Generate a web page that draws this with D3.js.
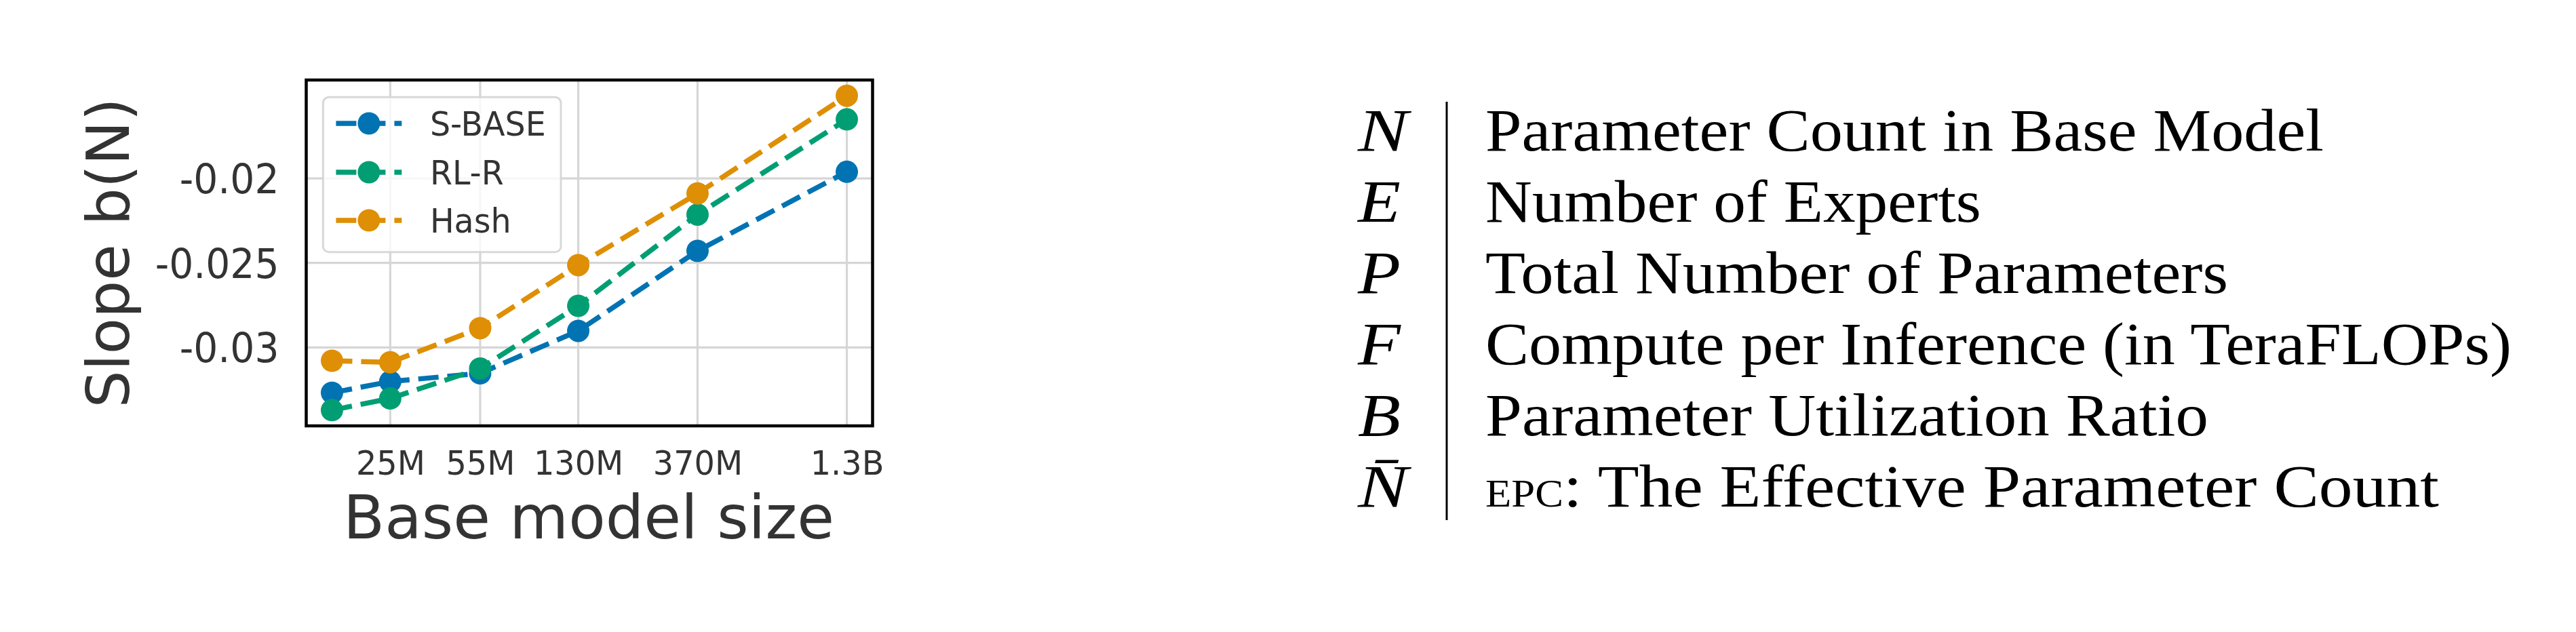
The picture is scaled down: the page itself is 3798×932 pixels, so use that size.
<!DOCTYPE html>
<html><head><meta charset="utf-8">
<script src="https://cdn.jsdelivr.net/npm/d3@7"></script>
<style>html,body{margin:0;padding:0;background:#fff;} svg{display:block}</style>
</head><body>
<script>
// ---------------- data ----------------
const modelSizes   = [15e6, 25e6, 55e6, 130e6, 370e6, 1.37e9];
const xTickValues  = [25e6, 55e6, 130e6, 370e6, 1.37e9];
const xTickLabels  = ["25M", "55M", "130M", "370M", "1.3B"];
const yTickValues  = [-0.03, -0.025, -0.02];
const yTickLabels  = ["-0.03", "-0.025", "-0.02"];
const seriesNames  = ["S-BASE", "RL-R", "Hash"];
const sbaseSlope   = [-0.03268, -0.03202, -0.03153, -0.02902, -0.02429, -0.01961];
const rlrSlope     = [-0.03371, -0.03302, -0.03125, -0.02754, -0.02214, -0.01651];
const hashSlope    = [-0.03079, -0.03088, -0.02886, -0.02513, -0.02089, -0.01511];
const xLabel = "Base model size";
const yLabel = "Slope b(N)";
const tableSymbols = ["N", "E", "P", "F", "B", "N\u0304"];
const tableDescriptions = [
  "Parameter Count in Base Model",
  "Number of Experts",
  "Total Number of Parameters",
  "Compute per Inference (in TeraFLOPs)",
  "Parameter Utilization Ratio",
  ["EPC", ": The Effective Parameter Count"]
];

// ---------------- styles / layout ----------------
const W = 3798, H = 932;
const colors = ["#0173b2", "#029e73", "#de8f05"];
const textColor = "#333333";
const plot = {left: 451.5, right: 1286.5, top: 118, bottom: 628};
const tableLayout = {symX: 2002, ruleX: 2133, ruleTop: 150, ruleBottom: 767, textX: 2190,
  baseline0: 222, rowStep: 105, fontSize: 89,
  symWidths: [74, 63, 63, 63, 63, 74],
  rowWidths: [1236, 731, 1095, 1513, 1066, 1406]};

const svg = d3.select("body").append("svg").attr("width", W).attr("height", H)
  .style("font-family", "'DejaVu Sans', sans-serif");

function squeeze(sel, f) {
  sel.each(function() {
    const w = this.getComputedTextLength();
    d3.select(this).attr("textLength", w * f).attr("lengthAdjust", "spacingAndGlyphs");
  });
}

// scales (matplotlib-like 5% margins)
const lx = d3.extent(modelSizes).map(Math.log10);
const px = (lx[1] - lx[0]) * 0.05;
const x = d3.scaleLog().domain([Math.pow(10, lx[0] - px), Math.pow(10, lx[1] + px)])
  .range([plot.left, plot.right]);
const allY = sbaseSlope.concat(rlrSlope, hashSlope);
const ey = d3.extent(allY);
const py = (ey[1] - ey[0]) * 0.05;
const y = d3.scaleLinear().domain([ey[0] - py, ey[1] + py]).range([plot.bottom, plot.top]);

// grid
const grid = svg.append("g");
grid.selectAll("line.gx").data(xTickValues).join("line")
  .attr("x1", d => x(d)).attr("x2", d => x(d))
  .attr("y1", plot.top).attr("y2", plot.bottom)
  .attr("stroke", "#d6d6d6").attr("stroke-width", 3.2);
grid.selectAll("line.gy").data(yTickValues).join("line")
  .attr("y1", d => y(d)).attr("y2", d => y(d))
  .attr("x1", plot.left).attr("x2", plot.right)
  .attr("stroke", "#d6d6d6").attr("stroke-width", 3.2);

// axes (tick labels via d3 axes, no tick marks/domain)
const xAxis = d3.axisBottom(x).tickValues(xTickValues)
  .tickFormat((d, i) => xTickLabels[i]).tickSize(0).tickPadding(0);
const gx = svg.append("g").attr("transform", `translate(0,${plot.bottom})`).call(xAxis);
gx.select(".domain").remove();
gx.selectAll("text").attr("fill", textColor).attr("font-size", 50)
  .attr("font-family", "'DejaVu Sans', sans-serif")
  .attr("y", 72).attr("dy", 0);
squeeze(gx.selectAll("text"), 0.955);

const yAxis = d3.axisLeft(y).tickValues(yTickValues)
  .tickFormat((d, i) => yTickLabels[i]).tickSize(0).tickPadding(0);
const gy = svg.append("g").attr("transform", `translate(${plot.left},0)`).call(yAxis);
gy.select(".domain").remove();
gy.selectAll("text").attr("fill", textColor).attr("font-size", 60)
  .attr("font-family", "'DejaVu Sans', sans-serif")
  .attr("x", -40).attr("dy", "0.36em");
squeeze(gy.selectAll("text"), 0.945);

// axis labels
svg.append("text").attr("x", (plot.left + plot.right) / 2 - 1).attr("y", 794)
  .attr("text-anchor", "middle").attr("font-size", 89).attr("fill", textColor)
  .attr("textLength", 724).attr("lengthAdjust", "spacingAndGlyphs").text(xLabel);
svg.append("text").attr("transform", `translate(190,${(plot.top + plot.bottom) / 2}) rotate(-90)`)
  .attr("text-anchor", "middle").attr("font-size", 87).attr("fill", textColor).text(yLabel);

// series
const series = [sbaseSlope, rlrSlope, hashSlope].map((vals, i) => ({
  name: seriesNames[i], color: colors[i],
  pts: vals.map((v, j) => ({x: modelSizes[j], y: v}))
}));
const line = d3.line().x(d => x(d.x)).y(d => y(d.y));
const gs = svg.append("g");
series.forEach(s => {
  gs.append("path").datum(s.pts).attr("d", line).attr("fill", "none")
    .attr("stroke", s.color).attr("stroke-width", 7.5).attr("stroke-dasharray", "30,13");
  gs.selectAll(null).data(s.pts).join("circle")
    .attr("cx", d => x(d.x)).attr("cy", d => y(d.y)).attr("r", 16.5).attr("fill", s.color);
});

// frame
svg.append("rect").attr("x", plot.left).attr("y", plot.top)
  .attr("width", plot.right - plot.left).attr("height", plot.bottom - plot.top)
  .attr("fill", "none").attr("stroke", "#000").attr("stroke-width", 4.5);

// legend
const lg = svg.append("g");
lg.append("rect").attr("x", 476.3).attr("y", 143.3).attr("width", 350.7).attr("height", 228.5)
  .attr("rx", 8.6).attr("fill", "#fff").attr("fill-opacity", 0.8)
  .attr("stroke", "#d4d4d4").attr("stroke-opacity", 0.9).attr("stroke-width", 3);
const rowY = [182, 254, 325];
series.forEach((s, i) => {
  const g = lg.append("g").attr("transform", `translate(0,${rowY[i]})`);
  g.append("line").attr("x1", 495.4).attr("x2", 592.3).attr("y1", 0).attr("y2", 0)
    .attr("stroke", s.color).attr("stroke-width", 7.5).attr("stroke-dasharray", "30,13");
  g.append("circle").attr("cx", 543.9).attr("cy", 0).attr("r", 16.5).attr("fill", s.color);
  const t = g.append("text").attr("x", 633.9).attr("y", 18.2).attr("font-size", 50)
    .attr("fill", textColor).text(s.name);
  squeeze(t, 0.95);
});

// right-hand notation table
const tb = svg.append("g").attr("font-family", "'Liberation Serif', 'Times New Roman', serif")
  .attr("fill", "#000");
tb.append("line").attr("x1", tableLayout.ruleX).attr("x2", tableLayout.ruleX)
  .attr("y1", tableLayout.ruleTop).attr("y2", tableLayout.ruleBottom)
  .attr("stroke", "#000").attr("stroke-width", 3);
tableSymbols.forEach((sym, i) => {
  const by = tableLayout.baseline0 + i * tableLayout.rowStep;
  tb.append("text").attr("x", tableLayout.symX).attr("y", by)
    .attr("font-size", tableLayout.fontSize).attr("font-style", "italic")
    .attr("textLength", tableLayout.symWidths[i]).attr("lengthAdjust", "spacingAndGlyphs")
    .text(sym);
  const t = tb.append("text").attr("x", tableLayout.textX).attr("y", by)
    .attr("font-size", tableLayout.fontSize)
    .attr("textLength", tableLayout.rowWidths[i]).attr("lengthAdjust", "spacingAndGlyphs");
  const desc = tableDescriptions[i];
  if (Array.isArray(desc)) {
    t.append("tspan").attr("font-size", 56).text(desc[0]);
    t.append("tspan").text(desc[1]);
  } else {
    t.text(desc);
  }
});
</script>
</body></html>
